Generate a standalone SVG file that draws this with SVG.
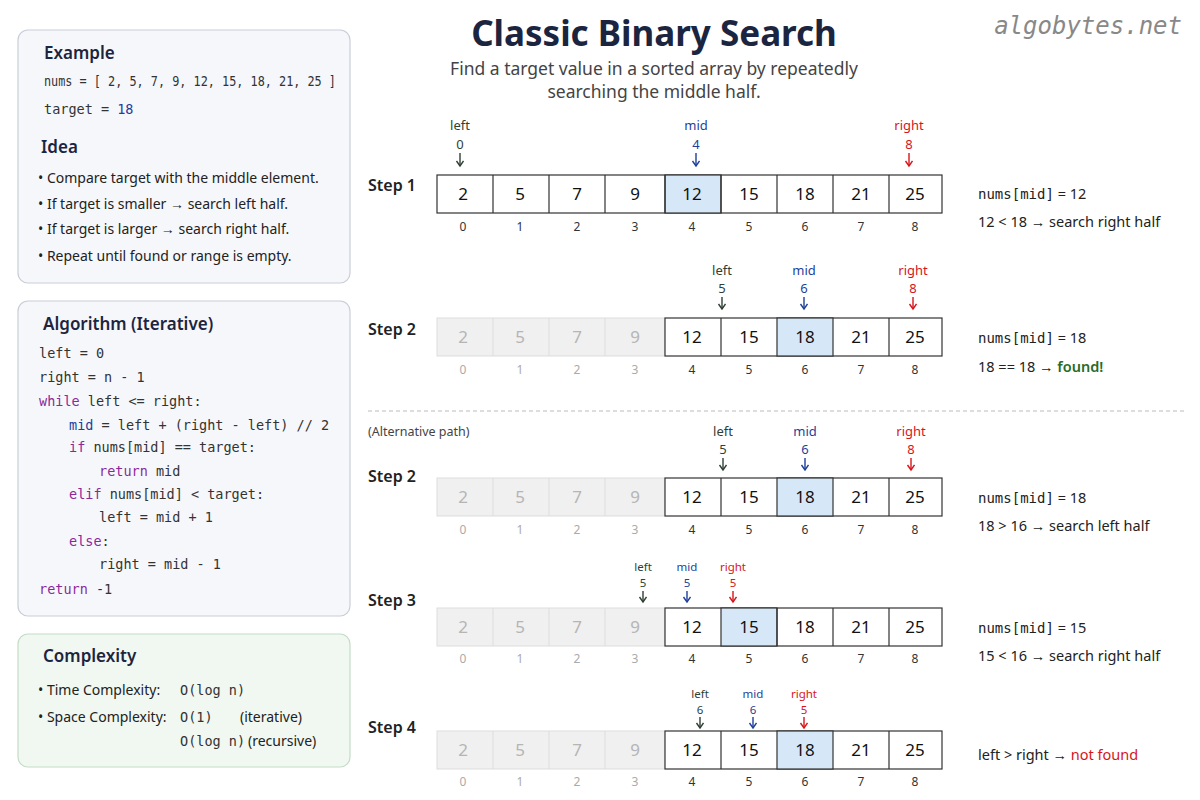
<svg xmlns="http://www.w3.org/2000/svg" width="1200" height="800" viewBox="0 0 1200 800">
<style>
.s{font-family:"Noto Sans","Liberation Sans",sans-serif}
.m{font-family:"DejaVu Sans Mono","Liberation Mono",monospace}
.panel{fill:#f6f7fb;stroke:#c9cdd8;stroke-width:1.2}
.h{font-family:"Noto Sans","Liberation Sans",sans-serif;font-size:17px;font-weight:600;fill:#1c2540}
.t{font-family:"Noto Sans","Liberation Sans",sans-serif;font-size:14px;fill:#222}
.code{font-family:"DejaVu Sans Mono","Liberation Mono",monospace;font-size:13.5px;fill:#333}
.kw{fill:#8a2a9a}.bl{fill:#1e3f9a}
.cell{fill:#fff;stroke:#333;stroke-width:1.2}
.gcell{fill:#f0f0f0;stroke:#ddd;stroke-width:1}
.hl{fill:#d6e8f8;stroke:#333;stroke-width:1.2}
.v{font-family:"Noto Sans","Liberation Sans",sans-serif;font-size:17px;fill:#111;text-anchor:middle}
.gv{font-family:"Noto Sans","Liberation Sans",sans-serif;font-size:17px;fill:#b5b5b5;text-anchor:middle}
.i{font-family:"Noto Sans","Liberation Sans",sans-serif;font-size:12px;fill:#333;text-anchor:middle}
.gi{font-family:"Noto Sans","Liberation Sans",sans-serif;font-size:12px;fill:#aaa;text-anchor:middle}
.step{font-family:"Noto Sans","Liberation Sans",sans-serif;font-size:16px;font-weight:600;fill:#222}
.p{font-family:"Noto Sans","Liberation Sans",sans-serif;font-size:13px;text-anchor:middle}
.note{font-family:"Noto Sans","Liberation Sans",sans-serif;font-size:14.5px;fill:#222}
</style>
<defs>
<marker id="ak" markerWidth="9" markerHeight="9" refX="7" refY="4" orient="auto" markerUnits="userSpaceOnUse"><path d="M2,0.5 L7,4 L2,7.5" fill="none" stroke="#2f3f35" stroke-width="1.4"/></marker>
<marker id="ab" markerWidth="9" markerHeight="9" refX="7" refY="4" orient="auto" markerUnits="userSpaceOnUse"><path d="M2,0.5 L7,4 L2,7.5" fill="none" stroke="#1e3f9a" stroke-width="1.4"/></marker>
<marker id="ar" markerWidth="9" markerHeight="9" refX="7" refY="4" orient="auto" markerUnits="userSpaceOnUse"><path d="M2,0.5 L7,4 L2,7.5" fill="none" stroke="#d8141c" stroke-width="1.4"/></marker>
</defs>
<rect width="1200" height="800" fill="#fff"/>
<g id="title">
<text x="654" y="46" text-anchor="middle" class="s" font-size="35" font-weight="700" fill="#1c2540">Classic Binary Search</text>
<text x="654" y="75" text-anchor="middle" class="s" font-size="17.5" fill="#444">Find a target value in a sorted array by repeatedly</text>
<text x="654" y="98" text-anchor="middle" class="s" font-size="17.5" fill="#444">searching the middle half.</text>
<text x="1182" y="34" text-anchor="end" class="m" font-size="24" font-style="italic" fill="#888">algobytes.net</text>
</g>
<g id="example">
<rect x="18" y="30" width="332" height="253" rx="10" class="panel"/>
<text x="44" y="59" class="h">Example</text>
<text x="44" y="86" class="code" fill="#222" textLength="292" lengthAdjust="spacingAndGlyphs">nums = [ 2, 5, 7, 9, 12, 15, 18, 21, 25 ]</text>
<text x="44" y="114" class="code" fill="#222">target = <tspan class="bl">18</tspan></text>
<text x="41" y="153" class="h">Idea</text>
<g class="t">
<text x="38" y="183">•  Compare target with the middle element.</text>
<text x="38" y="209">•  If target is smaller  →  search left half.</text>
<text x="38" y="234">•  If target is larger    →  search right half.</text>
<text x="38" y="261">•  Repeat until found or range is empty.</text>
</g>
</g>
<g id="algorithm">
<rect x="18" y="301" width="332" height="315" rx="10" class="panel"/>
<text x="43" y="330" class="h">Algorithm (Iterative)</text>
<g class="code">
<text x="39" y="358">left = 0</text>
<text x="39" y="382">right = n - 1</text>
<text x="39" y="406"><tspan class="kw">while</tspan> left &lt;= right:</text>
<text x="69" y="430"><tspan class="bl">mid</tspan> = left + (right - left) // 2</text>
<text x="69" y="452"><tspan class="kw">if</tspan> nums[mid] == target:</text>
<text x="99" y="476"><tspan class="kw">return</tspan> mid</text>
<text x="69" y="499"><tspan class="kw">elif</tspan> nums[mid] &lt; target:</text>
<text x="99" y="522">left = mid + 1</text>
<text x="69" y="546"><tspan class="kw">else</tspan>:</text>
<text x="99" y="569">right = mid - 1</text>
<text x="39" y="594"><tspan class="kw">return</tspan> -1</text>
</g>
</g>
<g id="complexity">
<rect x="18" y="634" width="332" height="133" rx="10" fill="#f1f8f1" stroke="#c4dcc6" stroke-width="1.2"/>
<text x="43" y="662" class="h">Complexity</text>
<text x="38" y="695" class="t">•  Time Complexity:</text>
<text x="180" y="695" class="code">O(log n)</text>
<text x="38" y="722" class="t">•  Space Complexity:</text>
<text x="180" y="722" class="code">O(1)</text>
<text x="240" y="722" class="t">(iterative)</text>
<text x="180" y="746" class="code">O(log n)</text>
<text x="248" y="746" class="t">(recursive)</text>
</g>
<line x1="368" y1="411" x2="1184" y2="411" stroke="#bbb" stroke-dasharray="4,3"/>
<text x="368" y="436" class="s" font-size="12.5" fill="#444">(Alternative path)</text>

<g id="step1">
<text x="368" y="191" class="step">Step 1</text>
<rect x="437" y="175" width="505" height="38" class="cell"/>
<rect x="665" y="175" width="56" height="38" class="hl"/>
<path d="M493,175v38M549,175v38M605,175v38M665,175v38M721,175v38M777,175v38M833,175v38M889,175v38" stroke="#333" stroke-width="1.2"/>
<g class="v"><text x="463" y="200">2</text><text x="520" y="200">5</text><text x="577" y="200">7</text><text x="635" y="200">9</text><text x="692" y="200">12</text><text x="749" y="200">15</text><text x="805" y="200">18</text><text x="861" y="200">21</text><text x="915" y="200">25</text></g>
<g class="i"><text x="463" y="231">0</text><text x="520" y="231">1</text><text x="577" y="231">2</text><text x="635" y="231">3</text><text x="692" y="231">4</text><text x="749" y="231">5</text><text x="805" y="231">6</text><text x="861" y="231">7</text><text x="915" y="231">8</text></g>
<g class="p"><text x="460" y="130" fill="#2f3f35">left</text><text x="460" y="149" fill="#2f3f35">0</text>
<text x="696" y="130" fill="#1e3f9a">mid</text><text x="696" y="149" fill="#1e3f9a">4</text>
<text x="909" y="130" fill="#d8141c">right</text><text x="909" y="149" fill="#d8141c">8</text></g>
<text x="978" y="199" class="note"><tspan class="m" font-size="14">nums[mid]</tspan> = 12</text>
<text x="978" y="227" class="note">12 &lt; 18  →  search right half</text>
</g>

<g id="step2">
<text x="368" y="335" class="step">Step 2</text>
<rect x="437" y="318" width="228" height="38" class="gcell"/>
<rect x="665" y="318" width="277" height="38" class="cell"/>
<rect x="777" y="318" width="56" height="38" class="hl"/>
<path d="M493,318v38M549,318v38M605,318v38" stroke="#ddd"/>
<path d="M721,318v38M889,318v38" stroke="#333" stroke-width="1.2"/>
<g class="gv"><text x="463" y="343">2</text><text x="520" y="343">5</text><text x="577" y="343">7</text><text x="635" y="343">9</text></g>
<g class="v"><text x="692" y="343">12</text><text x="749" y="343">15</text><text x="805" y="343">18</text><text x="861" y="343">21</text><text x="915" y="343">25</text></g>
<g class="gi"><text x="463" y="374">0</text><text x="520" y="374">1</text><text x="577" y="374">2</text><text x="635" y="374">3</text></g>
<g class="i"><text x="692" y="374">4</text><text x="749" y="374">5</text><text x="805" y="374">6</text><text x="861" y="374">7</text><text x="915" y="374">8</text></g>
<g class="p"><text x="722" y="275" fill="#2f3f35">left</text><text x="722" y="293" fill="#2f3f35">5</text>
<text x="804" y="275" fill="#1e3f9a">mid</text><text x="804" y="293" fill="#1e3f9a">6</text>
<text x="913" y="275" fill="#d8141c">right</text><text x="913" y="293" fill="#d8141c">8</text></g>
<text x="978" y="343" class="note"><tspan class="m" font-size="14">nums[mid]</tspan> = 18</text>
<text x="978" y="372" class="note">18 == 18  →  <tspan fill="#2a6a2a" font-weight="600">found!</tspan></text>
</g>

<g id="step2alt">
<text x="368" y="482" class="step">Step 2</text>
<rect x="437" y="478" width="228" height="38" class="gcell"/>
<rect x="665" y="478" width="277" height="38" class="cell"/>
<rect x="777" y="478" width="56" height="38" class="hl"/>
<path d="M493,478v38M549,478v38M605,478v38" stroke="#ddd"/>
<path d="M721,478v38M889,478v38" stroke="#333" stroke-width="1.2"/>
<g class="gv"><text x="463" y="503">2</text><text x="520" y="503">5</text><text x="577" y="503">7</text><text x="635" y="503">9</text></g>
<g class="v"><text x="692" y="503">12</text><text x="749" y="503">15</text><text x="805" y="503">18</text><text x="861" y="503">21</text><text x="915" y="503">25</text></g>
<g class="gi"><text x="463" y="534">0</text><text x="520" y="534">1</text><text x="577" y="534">2</text><text x="635" y="534">3</text></g>
<g class="i"><text x="692" y="534">4</text><text x="749" y="534">5</text><text x="805" y="534">6</text><text x="861" y="534">7</text><text x="915" y="534">8</text></g>
<g class="p"><text x="723" y="436" fill="#2f3f35">left</text><text x="723" y="454" fill="#2f3f35">5</text>
<text x="805" y="436" fill="#1e3f9a">mid</text><text x="805" y="454" fill="#1e3f9a">6</text>
<text x="911" y="436" fill="#d8141c">right</text><text x="911" y="454" fill="#d8141c">8</text></g>
<text x="978" y="503" class="note"><tspan class="m" font-size="14">nums[mid]</tspan> = 18</text>
<text x="978" y="531" class="note">18 &gt; 16  →  search left half</text>
</g>

<g id="step3">
<text x="368" y="606" class="step">Step 3</text>
<rect x="437" y="608" width="228" height="38" class="gcell"/>
<rect x="665" y="608" width="277" height="38" class="cell"/>
<rect x="721" y="608" width="56" height="38" class="hl"/>
<path d="M493,608v38M549,608v38M605,608v38" stroke="#ddd"/>
<path d="M777,608v38M833,608v38M889,608v38" stroke="#333" stroke-width="1.2"/>
<g class="gv"><text x="463" y="633">2</text><text x="520" y="633">5</text><text x="577" y="633">7</text><text x="635" y="633">9</text></g>
<g class="v"><text x="692" y="633">12</text><text x="749" y="633">15</text><text x="805" y="633">18</text><text x="861" y="633">21</text><text x="915" y="633">25</text></g>
<g class="gi"><text x="463" y="663">0</text><text x="520" y="663">1</text><text x="577" y="663">2</text><text x="635" y="663">3</text></g>
<g class="i"><text x="692" y="663">4</text><text x="749" y="663">5</text><text x="805" y="663">6</text><text x="861" y="663">7</text><text x="915" y="663">8</text></g>
<g class="p"><text x="643" y="571" fill="#2f3f35" font-size="11.5">left</text><text x="643" y="587" fill="#2f3f35" font-size="11.5">5</text>
<text x="687" y="571" fill="#1e3f9a" font-size="11.5">mid</text><text x="687" y="587" fill="#1e3f9a" font-size="11.5">5</text>
<text x="733" y="571" fill="#d8141c" font-size="11.5">right</text><text x="733" y="587" fill="#d8141c" font-size="11.5">5</text></g>
<text x="978" y="633" class="note"><tspan class="m" font-size="14">nums[mid]</tspan> = 15</text>
<text x="978" y="661" class="note">15 &lt; 16  →  search right half</text>
</g>

<g id="step4">
<text x="368" y="733" class="step">Step 4</text>
<rect x="437" y="731" width="228" height="38" class="gcell"/>
<rect x="665" y="731" width="277" height="38" class="cell"/>
<rect x="777" y="731" width="56" height="38" class="hl"/>
<path d="M493,731v38M549,731v38M605,731v38" stroke="#ddd"/>
<path d="M721,731v38M889,731v38" stroke="#333" stroke-width="1.2"/>
<g class="gv"><text x="463" y="756">2</text><text x="520" y="756">5</text><text x="577" y="756">7</text><text x="635" y="756">9</text></g>
<g class="v"><text x="692" y="756">12</text><text x="749" y="756">15</text><text x="805" y="756">18</text><text x="861" y="756">21</text><text x="915" y="756">25</text></g>
<g class="gi"><text x="463" y="786">0</text><text x="520" y="786">1</text><text x="577" y="786">2</text><text x="635" y="786">3</text></g>
<g class="i"><text x="692" y="786">4</text><text x="749" y="786">5</text><text x="805" y="786">6</text><text x="861" y="786">7</text><text x="915" y="786">8</text></g>
<g class="p"><text x="700" y="698" fill="#2f3f35" font-size="11.5">left</text><text x="700" y="714" fill="#2f3f35" font-size="11.5">6</text>
<text x="753" y="698" fill="#1e3f9a" font-size="11.5">mid</text><text x="753" y="714" fill="#1e3f9a" font-size="11.5">6</text>
<text x="804" y="698" fill="#d8141c" font-size="11.5">right</text><text x="804" y="714" fill="#d8141c" font-size="11.5">5</text></g>
<text x="978" y="760" class="note">left &gt; right  →  <tspan fill="#d8141c">not found</tspan></text>
</g>

<g id="connectors" stroke-width="1.4" fill="none">
<path d="M460,153v13" stroke="#2f3f35" marker-end="url(#ak)"/>
<path d="M696,153v13" stroke="#1e3f9a" marker-end="url(#ab)"/>
<path d="M909,153v13" stroke="#d8141c" marker-end="url(#ar)"/>
<path d="M722,297v12" stroke="#2f3f35" marker-end="url(#ak)"/>
<path d="M804,297v12" stroke="#1e3f9a" marker-end="url(#ab)"/>
<path d="M913,297v12" stroke="#d8141c" marker-end="url(#ar)"/>
<path d="M723,458v12" stroke="#2f3f35" marker-end="url(#ak)"/>
<path d="M805,458v12" stroke="#1e3f9a" marker-end="url(#ab)"/>
<path d="M911,458v12" stroke="#d8141c" marker-end="url(#ar)"/>
<path d="M643,591v11" stroke="#2f3f35" marker-end="url(#ak)"/>
<path d="M687,591v11" stroke="#1e3f9a" marker-end="url(#ab)"/>
<path d="M733,591v11" stroke="#d8141c" marker-end="url(#ar)"/>
<path d="M700,717v11" stroke="#2f3f35" marker-end="url(#ak)"/>
<path d="M753,717v11" stroke="#1e3f9a" marker-end="url(#ab)"/>
<path d="M804,717v11" stroke="#d8141c" marker-end="url(#ar)"/>
</g>
</svg>
